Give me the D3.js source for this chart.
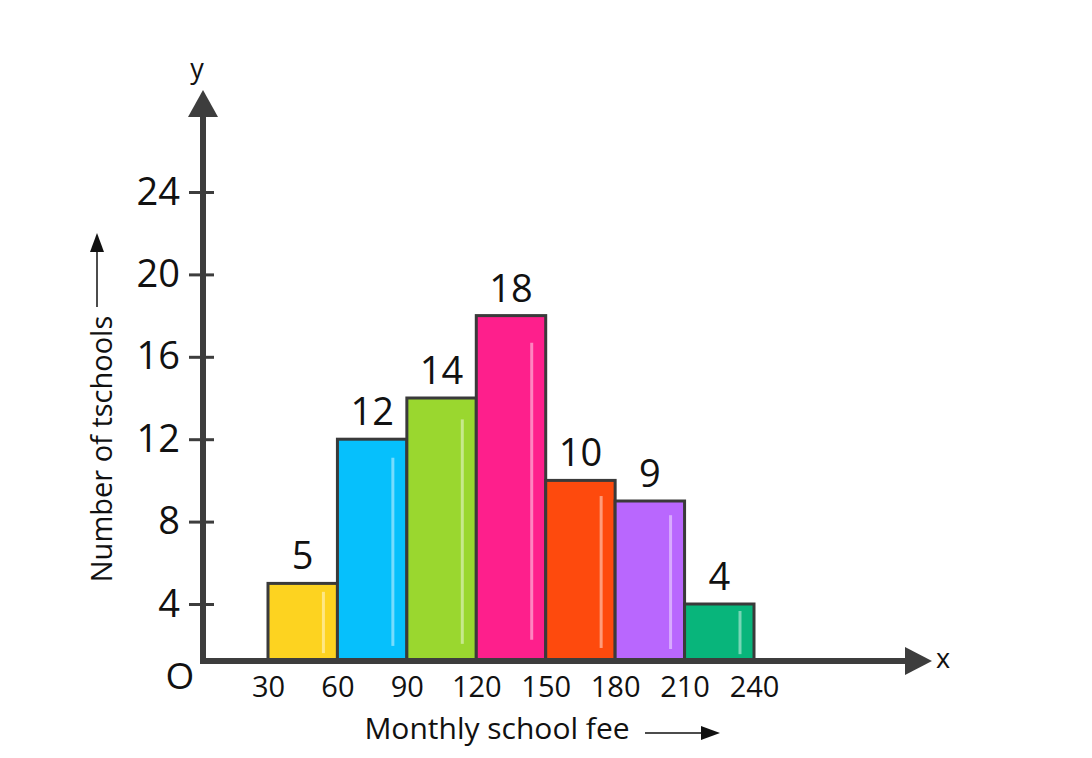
<!DOCTYPE html>
<html>
<head>
<meta charset="utf-8">
<script src="https://cdn.jsdelivr.net/npm/d3@7"></script>
<style>
    body { margin: 0; background: #fff; }
    svg text { font-family: "Open Sans", "DejaVu Sans", sans-serif; fill: #111; }
</style>
</head>
<body>
<div id="chart"></div>
<script>
// class boundaries of the monthly fee and number of schools in each class
const feeEdges = [30, 60, 90, 120, 150, 180, 210, 240];
const schoolCounts = [5, 12, 14, 18, 10, 9, 4];
const yTicks = [4, 8, 12, 16, 20, 24];
const barColors = ['#FDD320', '#06C0FC', '#9AD72F', '#FE1F8C', '#FE4A0D', '#B967FE', '#08B57B'];

const width = 1092, height = 758;
const originX = 203, originY = 661;
const axisColor = '#3d3d3d';

const svg = d3.select('#chart')
    .append('svg')
    .attr('width', width)
    .attr('height', height);

// the source figure squeezes the 0-4 step, so the y scale is piecewise
const x = d3.scaleLinear().domain([30, 240]).range([268, 754]);
const y = d3.scaleLinear().domain([0, 4, 24]).range([originY, 604, 192]);

const bins = schoolCounts.map((count, i) => ({
    x0: feeEdges[i],
    x1: feeEdges[i + 1],
    count: count,
    color: barColors[i]
}));

// bars
const bar = svg.append('g').selectAll('g')
    .data(bins)
    .join('g');

bar.append('rect')
    .attr('x', d => x(d.x0))
    .attr('y', d => y(d.count))
    .attr('width', d => x(d.x1) - x(d.x0))
    .attr('height', d => y(0) - y(d.count))
    .attr('fill', d => d.color)
    .attr('stroke', '#3a3a3a')
    .attr('stroke-width', 3);

// thin shine line on the right of each bar
bar.append('line')
    .attr('x1', d => x(d.x1) - 14)
    .attr('x2', d => x(d.x1) - 14)
    .attr('y1', d => y(d.count) + (y(0) - y(d.count)) * 0.07 + 3)
    .attr('y2', d => y(0) - (y(0) - y(d.count)) * 0.05 - 4)
    .attr('stroke', '#fff')
    .attr('stroke-opacity', 0.45)
    .attr('stroke-width', 3);

bar.append('text')
    .attr('x', d => (x(d.x0) + x(d.x1)) / 2)
    .attr('y', d => y(d.count) - 14)
    .attr('text-anchor', 'middle')
    .attr('font-size', 38)
    .text(d => d.count);

// y axis: ticks cross the axis line
const yAxis = svg.append('g')
    .attr('transform', `translate(${originX},0)`)
    .call(d3.axisLeft(y).tickValues(yTicks).tickSize(14).tickPadding(9));
yAxis.select('.domain').remove();
yAxis.selectAll('.tick line')
    .attr('x1', 11)
    .attr('stroke', axisColor)
    .attr('stroke-width', 3);
yAxis.selectAll('.tick text')
    .attr('font-size', 38)
    .attr('font-family', null)
    .attr('fill', '#111');

// x axis: labels only at class boundaries
const xAxis = svg.append('g')
    .attr('transform', `translate(0,${originY})`)
    .call(d3.axisBottom(x).tickValues(feeEdges).tickSize(0).tickPadding(15));
xAxis.select('.domain').remove();
xAxis.selectAll('.tick text')
    .attr('font-size', 29)
    .attr('font-family', null)
    .attr('fill', '#111');

// axis lines with arrow heads
svg.append('line')
    .attr('x1', originX).attr('y1', originY + 3)
    .attr('x2', originX).attr('y2', 116)
    .attr('stroke', axisColor).attr('stroke-width', 6);
svg.append('path')
    .attr('d', `M${originX - 15},117 L${originX + 15},117 L${originX},90 Z`)
    .attr('fill', axisColor);

svg.append('line')
    .attr('x1', originX - 3).attr('y1', originY)
    .attr('x2', 906).attr('y2', originY)
    .attr('stroke', axisColor).attr('stroke-width', 6);
svg.append('path')
    .attr('d', `M905,${originY - 14} L905,${originY + 14} L932,${originY} Z`)
    .attr('fill', axisColor);

svg.append('text')
    .attr('x', 197).attr('y', 78)
    .attr('text-anchor', 'middle')
    .attr('font-size', 27)
    .text('y');
svg.append('text')
    .attr('x', 943).attr('y', 668)
    .attr('text-anchor', 'middle')
    .attr('font-size', 27)
    .text('x');
svg.append('text')
    .attr('x', 180).attr('y', 689)
    .attr('text-anchor', 'middle')
    .attr('font-size', 37)
    .text('O');

// axis titles with their little arrows
svg.append('text')
    .attr('transform', 'translate(112,449) rotate(-90)')
    .attr('text-anchor', 'middle')
    .attr('font-size', 29)
    .text('Number of tschools');
svg.append('line')
    .attr('x1', 97).attr('y1', 307)
    .attr('x2', 97).attr('y2', 248)
    .attr('stroke', '#111').attr('stroke-width', 1.5);
svg.append('path')
    .attr('d', 'M90,252 L104,252 L97,233 Z')
    .attr('fill', '#111');

svg.append('text')
    .attr('x', 497).attr('y', 739)
    .attr('text-anchor', 'middle')
    .attr('font-size', 30)
    .text('Monthly school fee');
svg.append('line')
    .attr('x1', 645).attr('y1', 733)
    .attr('x2', 705).attr('y2', 733)
    .attr('stroke', '#111').attr('stroke-width', 1.5);
svg.append('path')
    .attr('d', 'M701,726 L701,740 L720,733 Z')
    .attr('fill', '#111');
</script>
</body>
</html>
